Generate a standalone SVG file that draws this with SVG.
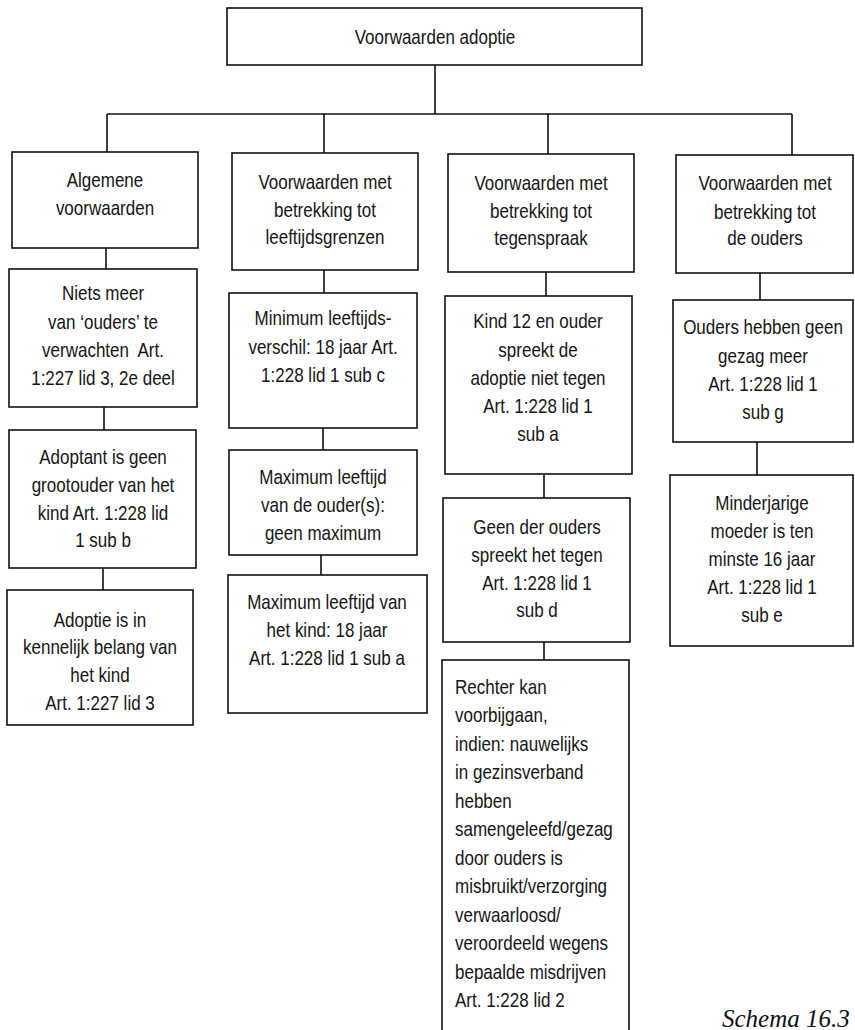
<svg xmlns="http://www.w3.org/2000/svg" width="855" height="1030" viewBox="0 0 855 1030">
<style>
.box{fill:#fff;stroke:#111;stroke-width:1.6}
.t{font-family:"Liberation Sans",Arial,sans-serif;font-size:21px;fill:#151515;text-anchor:middle}
.l{text-anchor:start}
.cap{font-family:"Liberation Serif",serif;font-style:italic;font-size:25px;fill:#111}
.c{fill:none;stroke:#111;stroke-width:1.6}
</style>
<rect width="855" height="1030" fill="#fff"/>
<g id="connectors" class="c">
<path d="M435,65V114M107,114H792M107,114V152M324,114V153M548,114V154M792,114V155"/>
<path d="M106,248V269M104,407V430M103,568V590"/>
<path d="M324,270V293M323,428V450M321,555V575"/>
<path d="M546,272V297M544,475V498M544,642V660"/>
<path d="M760,273V300M757,442V475"/>
</g>
<g id="root"><rect class="box" x="227" y="8" width="415" height="57"/><text class="t" transform="translate(435,44) scale(.81,1)">Voorwaarden adoptie</text></g>
<g id="a1"><rect class="box" x="12" y="152" width="186" height="96"/><text class="t" transform="translate(105,187) scale(.81,1)">Algemene</text><text class="t" transform="translate(105,215) scale(.81,1)">voorwaarden</text></g>
<g id="b1"><rect class="box" x="232" y="153" width="186" height="117"/><text class="t" transform="translate(325,189) scale(.81,1)">Voorwaarden met</text><text class="t" transform="translate(325,217) scale(.81,1)">betrekking tot</text><text class="t" transform="translate(325,244) scale(.81,1)">leeftijdsgrenzen</text></g>
<g id="c1"><rect class="box" x="448" y="154" width="186" height="118"/><text class="t" transform="translate(541,190) scale(.81,1)">Voorwaarden met</text><text class="t" transform="translate(541,218) scale(.81,1)">betrekking tot</text><text class="t" transform="translate(541,245) scale(.81,1)">tegenspraak</text></g>
<g id="d1"><rect class="box" x="676" y="155" width="177" height="118"/><text class="t" transform="translate(765,190) scale(.81,1)">Voorwaarden met</text><text class="t" transform="translate(765,219) scale(.81,1)">betrekking tot</text><text class="t" transform="translate(765,245) scale(.81,1)">de ouders</text></g>
<g id="a2"><rect class="box" x="9" y="269" width="188" height="138"/><text class="t" transform="translate(103,300) scale(.81,1)">Niets meer</text><text class="t" transform="translate(103,329) scale(.81,1)">van ‘ouders’ te</text><text class="t" transform="translate(103,357) scale(.81,1)" xml:space="preserve">verwachten  Art.</text><text class="t" transform="translate(103,385) scale(.81,1)">1:227 lid 3, 2e deel</text></g>
<g id="a3"><rect class="box" x="9" y="430" width="187" height="138"/><text class="t" transform="translate(103,464) scale(.81,1)">Adoptant is geen</text><text class="t" transform="translate(103,492) scale(.81,1)">grootouder van het</text><text class="t" transform="translate(103,520) scale(.81,1)">kind Art. 1:228 lid</text><text class="t" transform="translate(103,547) scale(.81,1)">1 sub b</text></g>
<g id="a4"><rect class="box" x="7" y="590" width="186" height="135"/><text class="t" transform="translate(100,627) scale(.81,1)">Adoptie is in</text><text class="t" transform="translate(100,654) scale(.81,1)">kennelijk belang van</text><text class="t" transform="translate(100,682) scale(.81,1)">het kind</text><text class="t" transform="translate(100,710) scale(.81,1)">Art. 1:227 lid 3</text></g>
<g id="b2"><rect class="box" x="229" y="293" width="188" height="135"/><text class="t" transform="translate(323,325) scale(.81,1)">Minimum leeftijds-</text><text class="t" transform="translate(323,354) scale(.81,1)">verschil: 18 jaar Art.</text><text class="t" transform="translate(323,382) scale(.81,1)">1:228 lid 1 sub c</text></g>
<g id="b3"><rect class="box" x="229" y="450" width="188" height="105"/><text class="t" transform="translate(323,484) scale(.81,1)">Maximum leeftijd</text><text class="t" transform="translate(323,512) scale(.81,1)">van de ouder(s):</text><text class="t" transform="translate(323,540) scale(.81,1)">geen maximum</text></g>
<g id="b4"><rect class="box" x="228" y="575" width="199" height="138"/><text class="t" transform="translate(327,609) scale(.81,1)">Maximum leeftijd van</text><text class="t" transform="translate(327,637) scale(.81,1)">het kind: 18 jaar</text><text class="t" transform="translate(327,665) scale(.81,1)">Art. 1:228 lid 1 sub a</text></g>
<g id="c2"><rect class="box" x="445" y="296" width="187" height="178"/><text class="t" transform="translate(538,328) scale(.81,1)">Kind 12 en ouder</text><text class="t" transform="translate(538,357) scale(.81,1)">spreekt de</text><text class="t" transform="translate(538,385) scale(.81,1)">adoptie niet tegen</text><text class="t" transform="translate(538,413) scale(.81,1)">Art. 1:228 lid 1</text><text class="t" transform="translate(538,441) scale(.81,1)">sub a</text></g>
<g id="c3"><rect class="box" x="443" y="498" width="187" height="144"/><text class="t" transform="translate(537,534) scale(.81,1)">Geen der ouders</text><text class="t" transform="translate(537,562) scale(.81,1)">spreekt het tegen</text><text class="t" transform="translate(537,590) scale(.81,1)">Art. 1:228 lid 1</text><text class="t" transform="translate(537,617) scale(.81,1)">sub d</text></g>
<g id="c4"><rect class="box" x="442" y="660" width="187" height="380"/>
<text class="t l" transform="translate(455,694) scale(.81,1)">Rechter kan</text><text class="t l" transform="translate(455,722) scale(.81,1)">voorbijgaan,</text><text class="t l" transform="translate(455,751) scale(.81,1)">indien: nauwelijks</text><text class="t l" transform="translate(455,779) scale(.81,1)">in gezinsverband</text><text class="t l" transform="translate(455,808) scale(.81,1)">hebben</text><text class="t l" transform="translate(455,836) scale(.81,1)">samengeleefd/gezag</text><text class="t l" transform="translate(455,865) scale(.81,1)">door ouders is</text><text class="t l" transform="translate(455,893) scale(.81,1)">misbruikt/verzorging</text><text class="t l" transform="translate(455,922) scale(.81,1)">verwaarloosd/</text><text class="t l" transform="translate(455,950) scale(.81,1)">veroordeeld wegens</text><text class="t l" transform="translate(455,979) scale(.81,1)">bepaalde misdrijven</text><text class="t l" transform="translate(455,1007) scale(.81,1)">Art. 1:228 lid 2</text></g>
<g id="d2"><rect class="box" x="673" y="300" width="180" height="142"/><text class="t" transform="translate(763,334) scale(.81,1)">Ouders hebben geen</text><text class="t" transform="translate(763,363) scale(.81,1)">gezag meer</text><text class="t" transform="translate(763,391) scale(.81,1)">Art. 1:228 lid 1</text><text class="t" transform="translate(763,419) scale(.81,1)">sub g</text></g>
<g id="d3"><rect class="box" x="670" y="475" width="183" height="171"/><text class="t" transform="translate(762,510) scale(.81,1)">Minderjarige</text><text class="t" transform="translate(762,538) scale(.81,1)">moeder is ten</text><text class="t" transform="translate(762,566) scale(.81,1)">minste 16 jaar</text><text class="t" transform="translate(762,594) scale(.81,1)">Art. 1:228 lid 1</text><text class="t" transform="translate(762,622) scale(.81,1)">sub e</text></g>
<text class="cap" x="722" y="1027">Schema 16.3</text>
</svg>
